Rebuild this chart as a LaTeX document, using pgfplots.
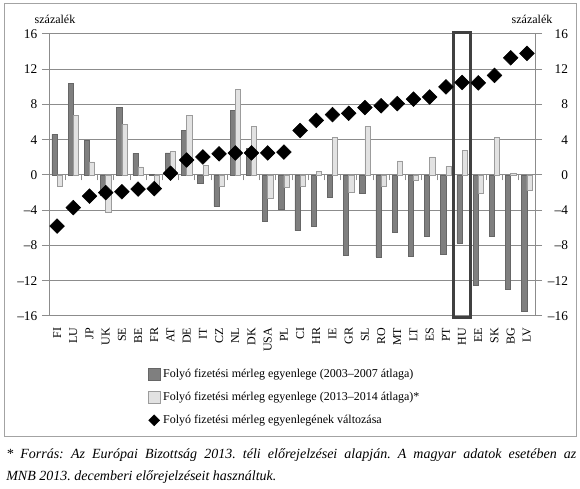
\documentclass[border=0pt]{standalone}
\usepackage{fontspec}
\setmainfont{Liberation Serif}
\usepackage{pgfplots}
\usepackage{pgfplotstable}
\pgfplotsset{compat=1.18}
\frenchspacing
\definecolor{gridgray}{HTML}{8C8C8C}
\definecolor{darkbar}{HTML}{7F7F7F}
\definecolor{darkbaredge}{HTML}{666666}
\definecolor{lightbar}{HTML}{E2E2E2}
\definecolor{lightbaredge}{HTML}{9C9C9C}
\definecolor{hurect}{HTML}{404040}
\pgfplotsset{
  barleg/.style={legend image code/.code={\draw[##1] (0pt,-4.5pt) rectangle (9pt,4.5pt);}},
  diamleg/.style={legend image code/.code={\draw[##1, mark size=2.9pt] plot coordinates {(4.5pt,0pt)};}},
}

\pgfplotstableread{
idx dark light chg
0 4.6 -1.25 -5.8
1 10.4 6.8 -3.7
2 3.9 1.5 -2.4
3 -2.25 -4.25 -2.0
4 7.7 5.75 -1.9
5 2.45 0.93 -1.6
6 0.1 -1.45 -1.55
7 2.5 2.65 0.2
8 5.05 6.8 1.7
9 -0.9 1.1 2.05
10 -3.55 -1.3 2.4
11 7.3 9.7 2.5
12 3.0 5.5 2.5
13 -5.2 -2.6 2.5
14 -3.9 -1.4 2.6
15 -6.3 -1.3 5.05
16 -5.8 0.4 6.2
17 -2.5 4.3 6.85
18 -9.1 -2.0 7.0
19 -2.1 5.5 7.65
20 -9.3 -1.3 7.85
21 -6.5 1.6 8.1
22 -9.2 -0.6 8.6
23 -6.9 2.05 8.85
24 -9.0 0.95 10.0
25 -7.7 2.8 10.5
26 -12.5 -2.1 10.45
27 -6.9 4.3 11.3
28 -13.0 0.2 13.3
29 -15.5 -1.75 13.8
}\data

\begin{document}
\begin{tikzpicture}
\path (0,0) rectangle (435pt,366pt);
\draw[gridgray!80, line width=0.75pt] (3pt,39pt) rectangle (432pt,363pt);

% ticks on the zero line
\begin{axis}[at={(36.75pt,129pt)}, anchor=south west, scale only axis,
  width=364.5pt, height=211.5pt,
  xmin=-0.5, xmax=29.5, ymin=-16, ymax=16,
  axis x line=middle, axis y line=none,
  x axis line style={draw=none,-},
  xtick={0.5,1.5,...,28.5}, xticklabels={},
  xtick style={gridgray, line width=0.75pt},
  major tick length=4pt, xtick align=outside]
\addplot[draw=none] coordinates {(0,0)};
\end{axis}

% right axis
\begin{axis}[at={(36.75pt,129pt)}, anchor=south west, scale only axis,
  width=364.5pt, height=211.5pt,
  xmin=-0.5, xmax=29.5, ymin=-16, ymax=16,
  axis x line=none, axis y line*=right,
  axis line style={gridgray, line width=0.75pt, -},
  ytick={-16,-12,...,16}, yticklabels={–16,–12,–8,–4,0,4,8,12,16},
  tick align=outside, ytick style={gridgray, line width=0.75pt},
  major tick length=5.25pt,
  yticklabel style={font=\fontsize{10}{10}\selectfont, anchor=east, xshift=23pt}]
\addplot[draw=none] coordinates {(0,0)};
\end{axis}

% main axis
\begin{axis}[at={(36.75pt,129pt)}, anchor=south west, scale only axis,
  width=364.5pt, height=211.5pt,
  xmin=-0.5, xmax=29.5, ymin=-16, ymax=16,
  axis line style={gridgray, line width=0.75pt},
  ytick={-16,-12,...,16}, yticklabels={–16,–12,–8,–4,0,4,8,12,16},
  ytick pos=left, tick align=outside,
  ymajorgrids, grid style={gridgray, line width=0.75pt},
  ytick style={gridgray, line width=0.75pt}, major tick length=5.25pt,
  yticklabel style={font=\fontsize{10}{10}\selectfont},
  xtick={0,...,29},
  xticklabels={FI,LU,JP,UK,SE,BE,FR,AT,DE,IT,CZ,NL,DK,USA,PL,CI,HR,IE,GR,SL,RO,MT,LT,ES,PT,HU,EE,SK,BG,LV},
  xtick pos=bottom, xtick style={draw=none},
  xticklabel style={rotate=90, anchor=east, font=\fontsize{9}{9}\selectfont},
  clip=false,
  legend cell align=left,
  legend style={at={(0.203,-0.177)}, anchor=north west, draw=none, fill=none,
    font=\fontsize{9}{10}\selectfont, row sep=5.5pt, inner sep=0pt},
]
\addplot[ybar, bar width=3.9pt, bar shift=-1.95pt, fill=darkbar, draw=darkbaredge, line width=0.4pt, barleg]
  table[x=idx, y=dark]{\data};
\addlegendentry{Folyó fizetési mérleg egyenlege (2003–2007 átlaga)}
\addplot[ybar, bar width=3.9pt, bar shift=1.95pt, fill=lightbar, draw=lightbaredge, line width=0.4pt, barleg]
  table[x=idx, y=light]{\data};
\addlegendentry{Folyó fizetési mérleg egyenlege (2013–2014 átlaga)*}
\draw[hurect, line width=2pt] (axis cs:24.47,-16.15) rectangle (axis cs:25.5,16.15);
\addplot[only marks, mark=square*, mark options={rotate=45, fill=black, draw=black}, mark size=3.9pt, diamleg]
  table[x=idx, y=chg]{\data};
\addlegendentry{Folyó fizetési mérleg egyenlegének változása}
\end{axis}

\node[anchor=base, font=\fontsize{9}{9}\selectfont] at (41.25pt,348pt) {százalék};
\node[anchor=base, font=\fontsize{9}{9}\selectfont] at (399pt,348pt) {százalék};

\node[anchor=base west, text width=427.5pt, align=justify, inner sep=0pt,
  font=\fontsize{10.5}{16.5}\selectfont\itshape] at (4.5pt,22.5pt)
  {* Forrás: Az Európai Bizottság 2013. téli előrejelzései alapján. A magyar adatok esetében az\linebreak MNB 2013. decemberi előrejelzéseit használtuk.};
\end{tikzpicture}
\end{document}
